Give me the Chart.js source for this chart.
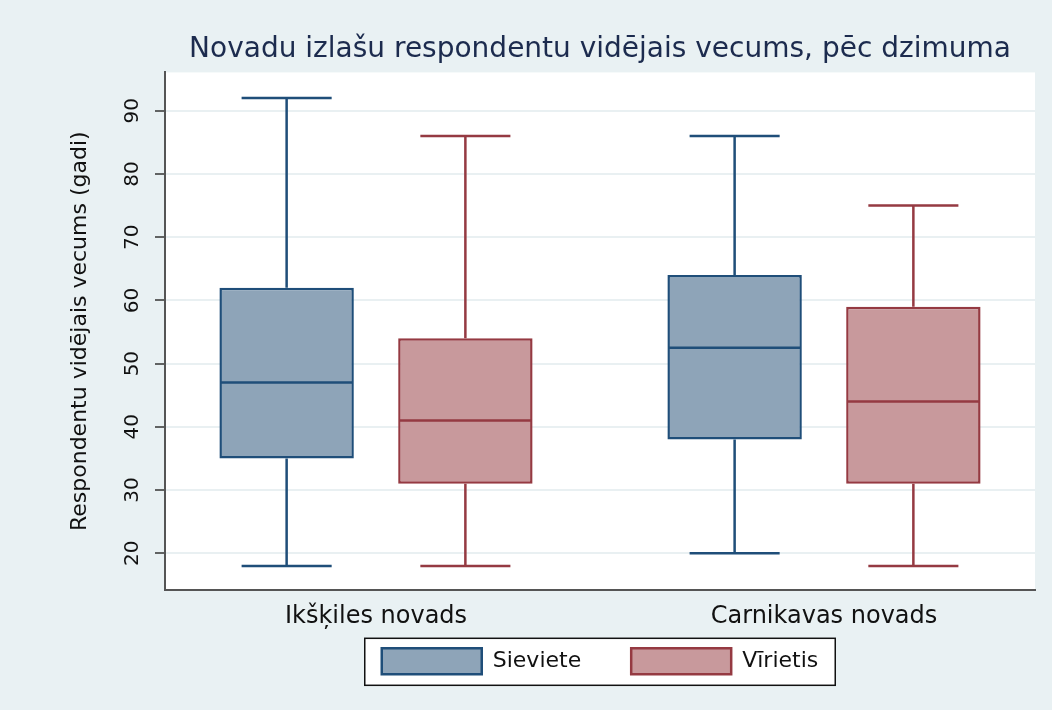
<!DOCTYPE html>
<html>
<head>
<meta charset="utf-8">
<script src="https://cdn.jsdelivr.net/npm/chart.js@4/dist/chart.umd.min.js"></script>
<style>
  html, body { margin: 0; padding: 0; background: #e9f1f3; }
  #wrap { width: 1052px; height: 710px; }
</style>
</head>
<body>
<div id="wrap"><canvas id="c"></canvas></div>
<script>
/* ── Dati ─────────────────────────────────── */
const categories = ['Ikšķiles novads', 'Carnikavas novads'];
const seriesNames = ['Sieviete', 'Vīrietis'];

const sievieteMin = [18, 20];
const sievieteQ1  = [35, 38];
const sievieteMed = [47, 52.5];
const sievieteQ3  = [62, 64];
const sievieteMax = [92, 86];

const virietisMin = [18, 18];
const virietisQ1  = [31, 31];
const virietisMed = [41, 44];
const virietisQ3  = [54, 59];
const virietisMax = [86, 75];

const yTicks = [20, 30, 40, 50, 60, 70, 80, 90];

const FONT = "'DejaVu Sans', sans-serif";
const BG = '#e9f1f3';

function boxData(q1, q3) {
  return categories.map((c, i) => ({ x: i, y: [q1[i], q3[i]] }));
}

/* ── Fons, balts zīmēšanas laukums, leģendas rāmis ── */
const backdrop = {
  id: 'backdrop',
  beforeDraw(chart) {
    const { ctx, chartArea: a } = chart;
    ctx.save();
    ctx.fillStyle = BG;
    ctx.fillRect(0, 0, chart.width, chart.height);
    ctx.fillStyle = '#ffffff';
    ctx.fillRect(a.left, a.top, a.right - a.left, a.bottom - a.top);

    const hb = chart.legend && chart.legend.legendHitBoxes;
    if (hb && hb.length) {
      const last = hb[hb.length - 1];
      const l = hb[0].left - 17, r = last.left + last.width + 17;
      const t = hb[0].top - 10, b = hb[0].top + hb[0].height + 11;
      ctx.fillStyle = '#ffffff';
      ctx.fillRect(l, t, r - l, b - t);
      ctx.strokeStyle = '#111111';
      ctx.lineWidth = 1.5;
      ctx.strokeRect(l, t, r - l, b - t);
    }
    ctx.restore();
  }
};

/* ── Ūsas, mediānas, asu skaitļi ──────────── */
const boxplot = {
  id: 'boxplot',
  beforeDatasetsDraw(chart) {
    const { ctx } = chart;
    const y = chart.scales.y;
    ctx.save();
    chart.data.datasets.forEach((ds, di) => {
      const meta = chart.getDatasetMeta(di);
      ctx.strokeStyle = ds.borderColor;
      ctx.lineWidth = 2.5;
      meta.data.forEach((bar, i) => {
        const cap = bar.width * 0.67;
        const yMin = y.getPixelForValue(ds.stats.min[i]);
        const yMax = y.getPixelForValue(ds.stats.max[i]);
        const yQ1 = y.getPixelForValue(ds.stats.q1[i]);
        const yQ3 = y.getPixelForValue(ds.stats.q3[i]);
        ctx.beginPath();
        ctx.moveTo(bar.x, yQ3); ctx.lineTo(bar.x, yMax);
        ctx.moveTo(bar.x - cap / 2, yMax); ctx.lineTo(bar.x + cap / 2, yMax);
        ctx.moveTo(bar.x, yQ1); ctx.lineTo(bar.x, yMin);
        ctx.moveTo(bar.x - cap / 2, yMin); ctx.lineTo(bar.x + cap / 2, yMin);
        ctx.stroke();
      });
    });
    ctx.restore();
  },
  afterDatasetsDraw(chart) {
    const { ctx } = chart;
    const x = chart.scales.x;
    const y = chart.scales.y;
    ctx.save();
    chart.data.datasets.forEach((ds, di) => {
      const meta = chart.getDatasetMeta(di);
      ctx.strokeStyle = ds.borderColor;
      ctx.lineWidth = 2.5;
      meta.data.forEach((bar, i) => {
        const ym = y.getPixelForValue(ds.stats.med[i]);
        ctx.beginPath();
        ctx.moveTo(bar.x - bar.width / 2 + 1, ym);
        ctx.lineTo(bar.x + bar.width / 2 - 1, ym);
        ctx.stroke();
      });
    });

    ctx.fillStyle = '#111111';
    // y ass skaitļi, pagriezti
    ctx.font = '20px ' + FONT;
    ctx.textAlign = 'center';
    ctx.textBaseline = 'middle';
    y.ticks.forEach(t => {
      ctx.save();
      ctx.translate(133, y.getPixelForValue(t.value));
      ctx.rotate(-Math.PI / 2);
      ctx.fillText(String(t.value), 0, 0);
      ctx.restore();
    });
    // x ass grupu nosaukumi
    ctx.font = '24px ' + FONT;
    ctx.textBaseline = 'alphabetic';
    x.ticks.forEach(t => {
      ctx.fillText(categories[t.value], x.getPixelForValue(t.value), 623);
    });
    ctx.restore();
  }
};

new Chart(document.getElementById('c'), {
  type: 'bar',
  data: {
    datasets: [
      {
        label: seriesNames[0],
        data: boxData(sievieteQ1, sievieteQ3),
        stats: { min: sievieteMin, q1: sievieteQ1, med: sievieteMed, q3: sievieteQ3, max: sievieteMax },
        backgroundColor: '#8ea4b8',
        borderColor: '#1f4e79',
        borderWidth: 2.5,
        borderSkipped: false,
        categoryPercentage: 0.798,
        barPercentage: 0.752
      },
      {
        label: seriesNames[1],
        data: boxData(virietisQ1, virietisQ3),
        stats: { min: virietisMin, q1: virietisQ1, med: virietisMed, q3: virietisQ3, max: virietisMax },
        backgroundColor: '#c8999c',
        borderColor: '#953a42',
        borderWidth: 2.5,
        borderSkipped: false,
        categoryPercentage: 0.798,
        barPercentage: 0.752
      }
    ]
  },
  options: {
    responsive: true,
    maintainAspectRatio: false,
    animation: false,
    layout: { padding: { left: 0, right: 17, top: 0, bottom: 25.7 } },
    plugins: {
      title: {
        display: true,
        fullSize: false,
        text: 'Novadu izlašu respondentu vidējais vecums, pēc dzimuma',
        color: '#1c2b4e',
        font: { family: FONT, size: 28, weight: 'normal' },
        padding: { top: 33.2, bottom: 5.6 }
      },
      legend: {
        position: 'bottom',
        fullSize: false,
        labels: {
          color: '#111111',
          font: { family: FONT, size: 22 },
          boxWidth: 100,
          boxHeight: 26,
          padding: 50
        }
      },
      tooltip: { enabled: false }
    },
    scales: {
      x: {
        type: 'linear',
        offset: false,
        min: -0.471,
        max: 1.471,
        afterBuildTicks: s => { s.ticks = categories.map((c, i) => ({ value: i })); },
        afterFit: s => { s.height = 8.3; },
        grid: { display: false, drawTicks: false, offset: false },
        border: { display: true, color: '#555555', width: 2 },
        ticks: { display: false }
      },
      y: {
        min: 14.2,
        max: 96.06,
        afterBuildTicks: s => { s.ticks = yTicks.map(v => ({ value: v })); },
        afterFit: s => { s.width = 165; },
        grid: {
          color: '#e9f0f2',
          lineWidth: 2,
          tickLength: 10,
          tickColor: '#333333',
          tickWidth: 1.5
        },
        border: { display: true, color: '#555555', width: 2 },
        ticks: { display: false },
        title: {
          display: true,
          text: 'Respondentu vidējais vecums (gadi)',
          color: '#111111',
          font: { family: FONT, size: 22 },
          padding: { top: 67, bottom: 0 }
        }
      }
    }
  },
  plugins: [backdrop, boxplot]
});
</script>
</body>
</html>
